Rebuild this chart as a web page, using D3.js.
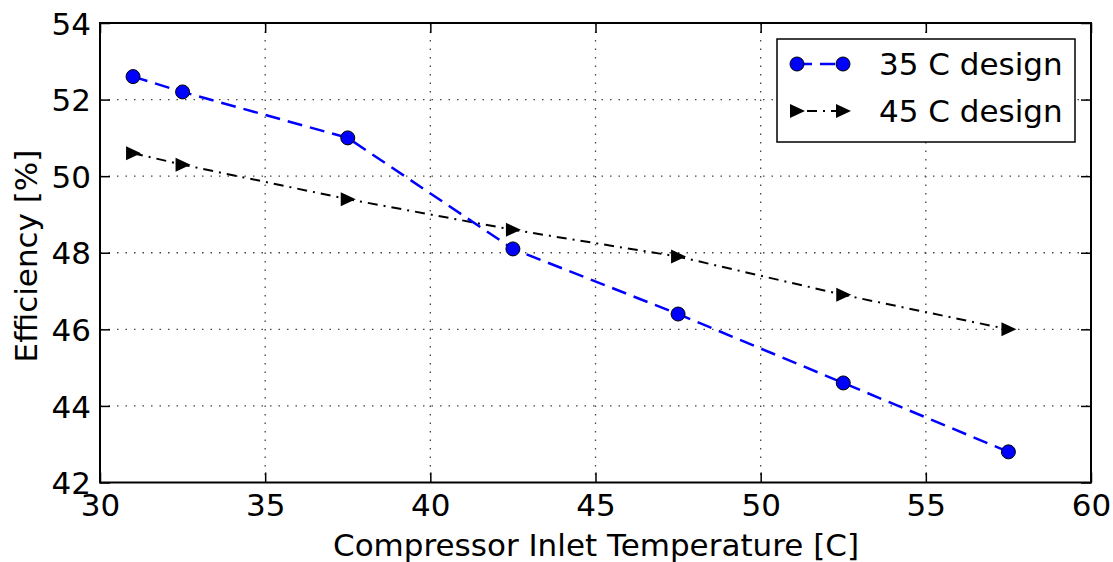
<!DOCTYPE html>
<html><head><meta charset="utf-8">
<script src="https://cdn.jsdelivr.net/npm/d3@7"></script>
<style>body{margin:0;background:#fff}svg text{font-family:"DejaVu Sans",sans-serif;fill:#000}</style>
</head><body><svg id="c" width="1113" height="562"></svg>
<script>
const temps35 = [31, 32.5, 37.5, 42.5, 47.5, 52.5, 57.5];
const eff35 = [52.6, 52.2, 51.0, 48.1, 46.4, 44.6, 42.8];
const temps45 = [31, 32.5, 37.5, 42.5, 47.5, 52.5, 57.5];
const eff45 = [50.6, 50.3, 49.4, 48.6, 47.9, 46.9, 46.0];
const xTicks = [30, 35, 40, 45, 50, 55, 60];
const yTicks = [42, 44, 46, 48, 50, 52, 54];
const seriesNames = ["35 C design", "45 C design"];

const svg = d3.select("#c");
const L = 100, R = 1091, T = 23, B = 482.5;
const x = d3.scaleLinear().domain([30, 60]).range([L, R]);
const y = d3.scaleLinear().domain([42, 54]).range([B, T]);
const fs = 31;

// grid
const g = svg.append("g");
g.selectAll(".gx").data(xTicks.slice(1, -1)).enter().append("line")
  .attr("x1", d => x(d)).attr("x2", d => x(d)).attr("y1", T).attr("y2", B)
  .attr("stroke", "#444").attr("stroke-width", 1.3).attr("stroke-dasharray", "1.5,7");
g.selectAll(".gy").data(yTicks.slice(1, -1)).enter().append("line")
  .attr("y1", d => y(d)).attr("y2", d => y(d)).attr("x1", L).attr("x2", R)
  .attr("stroke", "#444").attr("stroke-width", 1.3).attr("stroke-dasharray", "1.5,7");

// axes with inward ticks
const ax = svg.append("g");
const xb = ax.append("g").attr("transform", `translate(0,${B})`)
  .call(d3.axisBottom(x).tickValues(xTicks).tickSize(-10).tickPadding(11).tickFormat(d3.format("d")));
const xt = ax.append("g").attr("transform", `translate(0,${T})`)
  .call(d3.axisTop(x).tickValues(xTicks).tickSize(-10).tickFormat(""));
const yl = ax.append("g").attr("transform", `translate(${L},0)`)
  .call(d3.axisLeft(y).tickValues(yTicks).tickSize(-10).tickPadding(9).tickFormat(d3.format("d")));
const yr = ax.append("g").attr("transform", `translate(${R},0)`)
  .call(d3.axisRight(y).tickValues(yTicks).tickSize(-10).tickFormat(""));
ax.selectAll(".domain").remove();
ax.selectAll(".tick line").attr("stroke", "#000").attr("stroke-width", 1.5);
ax.selectAll(".tick text").attr("font-size", fs).style("font-family", "DejaVu Sans");
yl.selectAll(".tick text").attr("dy", "0.36em");
svg.append("rect").attr("x", L).attr("y", T).attr("width", R - L).attr("height", B - T)
  .attr("fill", "none").attr("stroke", "#000").attr("stroke-width", 2);

// lines
const line = d3.line().x(d => x(d[0])).y(d => y(d[1]));
const d35 = temps35.map((t, i) => [t, eff35[i]]);
const d45 = temps45.map((t, i) => [t, eff45[i]]);
svg.append("path").datum(d45).attr("d", line).attr("fill", "none")
  .attr("stroke", "#000").attr("stroke-width", 2).attr("stroke-dasharray", "10,6,2,6");
svg.append("path").datum(d35).attr("d", line).attr("fill", "none")
  .attr("stroke", "#0000ff").attr("stroke-width", 2.5).attr("stroke-dasharray", "15,8");

const tri = "M-7,-7L8,0L-7,7Z";
svg.selectAll(".t45").data(d45).enter().append("path")
  .attr("d", tri).attr("transform", d => `translate(${x(d[0])},${y(d[1])})`).attr("fill", "#000");
svg.selectAll(".c35").data(d35).enter().append("circle")
  .attr("cx", d => x(d[0])).attr("cy", d => y(d[1])).attr("r", 7)
  .attr("fill", "#0000ff").attr("stroke", "#000").attr("stroke-width", 1);

// legend
const lg = svg.append("g");
lg.append("rect").attr("x", 777).attr("y", 39).attr("width", 298).attr("height", 103)
  .attr("fill", "#fff").attr("stroke", "#000").attr("stroke-width", 1.5);
const r1 = 64, r2 = 111, lx1 = 797, lx2 = 843;
lg.append("line").attr("x1", lx1).attr("x2", lx2).attr("y1", r1).attr("y2", r1)
  .attr("stroke", "#0000ff").attr("stroke-width", 2.5).attr("stroke-dasharray", "15,8");
[lx1, lx2].forEach(px => lg.append("circle").attr("cx", px).attr("cy", r1).attr("r", 7)
  .attr("fill", "#0000ff").attr("stroke", "#000").attr("stroke-width", 1));
lg.append("line").attr("x1", lx1).attr("x2", lx2).attr("y1", r2).attr("y2", r2)
  .attr("stroke", "#000").attr("stroke-width", 2).attr("stroke-dasharray", "10,6,2,6").attr("stroke-dashoffset", 14);
[lx1, lx2].forEach(px => lg.append("path").attr("d", tri).attr("transform", `translate(${px},${r2})`).attr("fill", "#000"));
lg.append("text").attr("x", 879).attr("y", r1).attr("dy", "0.36em").attr("font-size", fs).text(seriesNames[0]);
lg.append("text").attr("x", 879).attr("y", r2).attr("dy", "0.36em").attr("font-size", fs).text(seriesNames[1]);

// axis titles
svg.append("text").attr("x", 596).attr("y", 556).attr("text-anchor", "middle")
  .attr("font-size", fs).text("Compressor Inlet Temperature [C]");
svg.append("text").attr("transform", `translate(37,256) rotate(-90)`).attr("text-anchor", "middle")
  .attr("font-size", fs).text("Efficiency [%]");
</script></body></html>
